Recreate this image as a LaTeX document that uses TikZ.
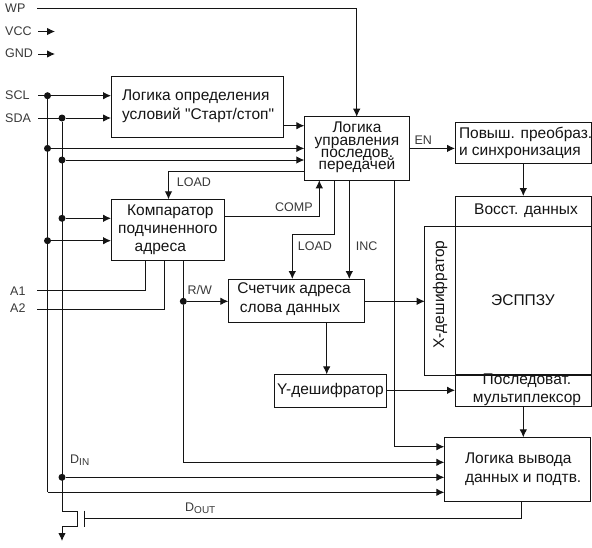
\documentclass[tikz,border=0pt]{standalone}
\usepackage{fontspec}
\setmainfont{Liberation Sans}
\newfontfamily\plainq{Liberation Sans}
\usetikzlibrary{arrows.meta}
\newcommand\bx[6]{\pgfmathsetmacro\bw{#4-#2}\pgfmathsetmacro\bh{#5-#3}\pgfmathsetmacro\bcx{(#2+#4)/2}\pgfmathsetmacro\bcy{(#3+#5)/2}\node[box,minimum width=\bw pt,minimum height=\bh pt] (#1) at (\bcx,\bcy) {#6};}
\newcommand\lft[2]{\makebox[#1pt][l]{#2}}
\newcommand\sbs[1]{\raisebox{-2.5pt}{\fontsize{10}{11}\selectfont #1}}
\definecolor{ink}{gray}{0.08}
\tikzset{
 box/.style={draw=ink,line width=0.9pt,inner sep=0pt,outer sep=0pt,font=\fontsize{15.5}{17}\selectfont,align=center,text=ink},
 wire/.style={draw=ink,line width=0.9pt},
 arr/.style={wire,-{Latex[length=8pt,width=7.5pt]}},
 dotn/.style={circle,fill=ink,inner sep=0pt,minimum size=7pt,outer sep=0pt},
 lab/.style={anchor=west,inner sep=0pt,font=\fontsize{12.5}{13}\selectfont,text=ink!85}
}
\begin{document}
\begin{tikzpicture}[x=1pt,y=-1pt]
\useasboundingbox (0,0) rectangle (592,547);
% blocks
\bx{start}{111}{76.5}{283}{137}{\lft{150}{Логика определения}\\[2pt]\lft{150}{условий {\plainq"}Старт/стоп{\plainq"}}}
\bx{ctrl}{304.3}{116.7}{409.7}{180.3}{Логика\\[-4.7pt]управления\\[-4.7pt]последов.\\[-4.7pt]передачей\rule[-5pt]{0pt}{5pt}}
\bx{conv}{455}{122.7}{591}{163.3}{\lft{128}{Повыш. преобраз.}\\[0.7pt]\lft{128}{и синхронизация}}
\bx{rest}{455}{196}{591}{226}{\hspace*{6pt}Восст. данных}
\bx{mem}{455}{226}{591}{375}{ЭСППЗУ}
\bx{xdec}{424.7}{226}{455}{375}{}
\bx{mux}{455}{375}{591}{405.3}{\hspace*{8pt}Последоват.\\[1pt]\hspace*{8pt}мультиплексор}
\bx{out}{444.3}{437.3}{590.7}{501.3}{\lft{105}{Логика вывода}\\[1.5pt]\lft{105}{данных и подтв.}}
\bx{ydec}{274.3}{374.3}{386.7}{407.3}{Y-дешифратор}
\bx{cnt}{228.3}{279}{364.7}{322.3}{Счетчик адреса\hspace*{5pt}\\[1.3pt]слова данных\hspace*{13pt}\rule[-6pt]{0pt}{6pt}}
\bx{cmp}{111}{199.3}{224.7}{260}{\hspace*{5pt}Компаратор\\[1pt]подчиненного\hspace*{2pt}\\[1pt]адреса\hspace*{15pt}}
\node[font=\fontsize{15.5}{17}\selectfont,text=ink,rotate=90,inner sep=0pt] (xtext) at (440,294.5) {X-дешифратор};
% pin labels
\node[lab] (wp) at (5,8) {WP};
\node[lab] (vcc) at (5,31) {VCC};
\node[lab] (gnd) at (5,53) {GND};
\node[lab] (scl) at (5,95) {SCL};
\node[lab] (sda) at (5,118) {SDA};
\node[lab] (aone) at (10,291) {A1};
\node[lab] (atwo) at (10,308) {A2};
% free ends
\coordinate (wpe) at (37,8);
\coordinate (vcce) at (38,31.5);
\coordinate (vcct) at (55,31.5);
\coordinate (gnde) at (38,54);
\coordinate (gndt) at (55,54);
\coordinate (scle) at (38,95.7);
\coordinate (sdae) at (38,118);
\coordinate (aonee) at (37,290.3);
\coordinate (atwoe) at (37,309);
% junctions
\node[dotn] (j1) at (47.5,95.7) {};
\node[dotn] (j2) at (62,118) {};
\node[dotn] (j3) at (47.5,148.4) {};
\node[dotn] (j4) at (62,160) {};
\node[dotn] (j5) at (62,218.3) {};
\node[dotn] (j6) at (47.5,240.7) {};
\node[dotn] (j7) at (183.3,301.3) {};
\node[dotn] (j8) at (62,477.3) {};
% inputs
\draw[arr] (wpe) -| (ctrl.north -| 356.7,0);
\draw[arr] (vcce) -- (vcct);
\draw[arr] (gnde) -- (gndt);
\draw[arr] (scle) -- (j1) -- (start.west |- j1);
\draw[arr] (sdae) -- (j2) -- (start.west |- j2);
\draw[wire] (j1) -- (47.5,492.3) coordinate (busa);
\draw[wire] (j2) -- (62,511.7) coordinate (busb);
\draw[arr] (busa) -- (out.west |- busa);
\draw[arr] (j3) -- (ctrl.west |- j3);
\draw[arr] (j4) -- (ctrl.west |- j4);
\draw[arr] (j5) -- (cmp.west |- j5);
\draw[arr] (j6) -- (cmp.west |- j6);
\draw[arr] (j8) -- (out.west |- j8);
% start to control
\draw[arr] (start.east |- 0,125.7) -- (ctrl.west |- 0,125.7);
% load to comparator
\draw[arr] (ctrl.west |- 0,171.3) -| (cmp.north -| 168.5,0);
% comp
\draw[arr] (cmp.east |- 0,216.3) -| (ctrl.south -| 319.3,0);
% A1 A2
\draw[wire] (aonee) -| (cmp.south -| 145.7,0);
\draw[wire] (atwoe) -| (cmp.south -| 164.3,0);
% R/W
\draw[wire] (cmp.south -| j7) -- (j7);
\draw[arr] (j7) -- (cnt.west |- j7);
\draw[arr] (j7) |- (out.west |- 0,462.3);
% control outputs
\draw[arr] (ctrl.south -| 334.7,0) |- (292.3,234.3) -- (cnt.north -| 292.3,0);
\draw[arr] (ctrl.south -| 349.3,0) -- (cnt.north -| 349.3,0);
\draw[arr] (ctrl.south -| 394.7,0) |- (out.west |- 0,446.7);
\draw[arr] (ctrl.east |- 0,148.4) -- (conv.west |- 0,148.4);
\draw[arr] (conv.south -| 523.3,0) -- (rest.north -| 523.3,0);
\draw[arr] (cnt.east |- 0,301.3) -- (xdec.west |- 0,301.3);
\draw[arr] (cnt.south -| 326.7,0) -- (ydec.north -| 326.7,0);
\draw[arr] (ydec.east |- 0,390.3) -- (mux.west |- 0,390.3);
\draw[arr] (mux.south -| 523.3,0) -- (out.north -| 523.3,0);
% output stage
\coordinate (platea) at (84.3,518.3);
\draw[wire] (out.south -| 521.7,0) |- (platea);
\draw[wire] (84.3,510.7) -- (84.3,526.7);
\draw[wire] (busb) -- (77.3,511.7) -- (77.3,526.7) -- (62,526.7) coordinate (outc);
\draw[arr] (outc) -- (62,541);
% signal labels
\node[lab] (lload) at (176.7,182) {LOAD};
\node[lab] (lcomp) at (275,207) {COMP};
\node[lab] (lload2) at (297.7,246) {LOAD};
\node[lab] (linc) at (355.7,246) {INC};
\node[lab] (len) at (414.3,140.5) {EN};
\node[lab] (lrw) at (187.3,290) {R/W};
\node[lab] (ldin) at (70,460) {D\sbs{IN}};
\node[lab] (ldout) at (185,508) {D\sbs{OUT}};
\end{tikzpicture}
\end{document}
